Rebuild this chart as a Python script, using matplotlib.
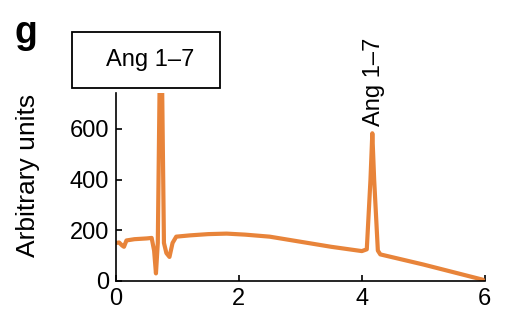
import matplotlib.pyplot as plt
from matplotlib.patches import Rectangle

plt.rcParams['font.family'] = ['Liberation Sans', 'DejaVu Sans']

ORANGE = "#E8843A"

# retention time vs signal
time = [0.0, 0.05, 0.1, 0.13, 0.17, 0.3, 0.5, 0.58, 0.62, 0.65, 0.68, 0.71,
        0.75, 0.78, 0.82, 0.87, 0.92, 0.98, 1.2, 1.5, 1.8, 2.1, 2.5, 3.0,
        3.5, 4.0, 4.08, 4.14, 4.17, 4.2, 4.26, 4.3, 5.0, 5.97]
signal = [150, 152, 140, 135, 160, 165, 168, 170, 120, 30, 150, 780,
          780, 150, 110, 95, 150, 175, 180, 185, 187, 183, 175, 155,
          135, 118, 125, 400, 583, 400, 120, 105, 65, 5]

xticks = [0, 2, 4, 6]
yticks = [0, 200, 400, 600]
peak_x, peak_y = 4.19, 610
box_label = "Ang 1\u20137"

fig = plt.figure(figsize=(5.05, 3.28), dpi=100)
ax = fig.add_axes([0.2297, 0.1433, 0.7303, 0.5732])
ax.plot(time, signal, color=ORANGE, lw=3.0, solid_capstyle="round",
        solid_joinstyle="round")
ax.set_xlim(0, 6)
ax.set_ylim(0, 742)
ax.set_xticks(xticks)
ax.set_yticks(yticks)
for s in ("top", "right"):
    ax.spines[s].set_visible(False)
for s in ("left", "bottom"):
    ax.spines[s].set_linewidth(1.2)
ax.tick_params(direction="in", length=4, width=1.2, labelsize=17, pad=5)

ax.text(peak_x, peak_y, box_label, rotation=90, ha="center", va="bottom",
        fontsize=17, clip_on=False)

fig.text(28 / 505, (328 - 175) / 328, "Arbitrary units", rotation=90,
         ha="center", va="center", fontsize=19)

fig.patches.append(Rectangle((72 / 505, (328 - 88) / 328), 148 / 505, 56 / 328,
                             transform=fig.transFigure, fill=False,
                             edgecolor="black", linewidth=1.3))
fig.text(150 / 505, (328 - 60) / 328, box_label, ha="center", va="center",
         fontsize=17)
fig.text(14 / 505, (328 - 33) / 328, "g", ha="left", va="center",
         fontsize=27, fontweight="bold")

fig.savefig("out.png", dpi=100, facecolor="white")
